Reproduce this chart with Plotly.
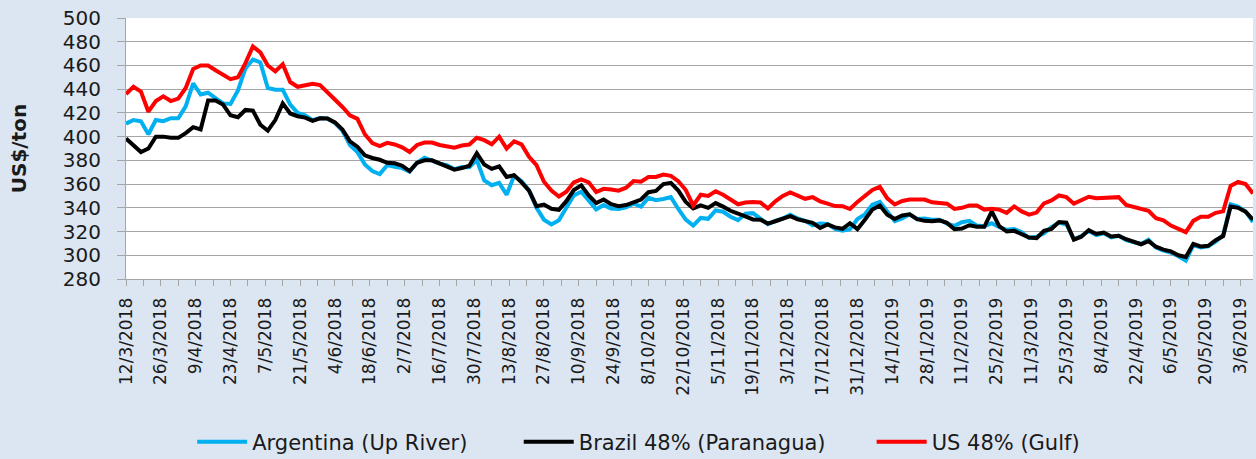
import pandas as pd
import plotly.graph_objects as go

argentina = [
    411, 414, 413, 402, 414, 413, 415.5, 415.5, 425.5, 445,
    435.5, 437, 432.5, 428, 427.5, 439, 457.5, 465, 462.5, 441,
    439.5, 439.5, 427, 420, 418, 413.8, 415.6, 415.4, 411.4, 405,
    393, 387, 376.6, 371, 368.5, 376, 374.5, 373.5, 370.5, 378,
    382.3, 379.8, 377.2, 376, 372.5, 374.5, 374.2, 380.5, 363, 359,
    361, 351, 367, 362.5, 354.7, 340, 330, 326, 329.5, 340,
    350.5, 353.5, 346, 338.7, 342.3, 339.5, 339, 340.4, 343.5, 341,
    348.5, 346.5, 347.5, 349, 339, 330, 325, 331.5, 330.7, 337.8,
    336.7, 332.5, 329.6, 335, 335.5, 330.5, 326.2, 328.9, 331, 334.2,
    331, 329, 325.3, 326.7, 326.3, 322.2, 320.8, 322, 330.6, 334.5,
    342.6, 345, 336.5, 328.8, 331, 334.5, 330.5, 331, 330, 330,
    326.7, 324.8, 327.8, 329, 325, 324.5, 327, 323.7, 321.5, 322.2,
    319.4, 314.7, 315.6, 318.5, 323.7, 327.5, 326, 313.5, 316.2, 320.5,
    317, 318.5, 315, 316.5, 312.7, 311.2, 309.5, 313, 306.5, 304,
    302.2, 299.2, 295.4, 308.5, 306.5, 307.5, 311.5, 317, 343, 341,
    337, 328,
]
brazil = [
    398.5, 393, 387, 390, 400, 400, 399, 399, 403, 408,
    406, 430.5, 430.5, 427, 418, 416.4, 422.5, 422, 410, 405,
    414, 428, 419.5, 417.2, 416, 413.3, 415.4, 415.2, 412, 406,
    396, 391.5, 384.3, 382, 380.5, 378, 377.5, 375.5, 371, 378,
    380, 380, 377.5, 375, 372.2, 373.5, 375.5, 386, 376.5, 372.8,
    375, 366, 367.5, 361.5, 354.5, 341.4, 342.8, 339.2, 338.3, 345.6,
    355, 358.9, 350.5, 344, 347, 343, 341.4, 342.3, 344.6, 347,
    353.2, 354.2, 360, 361, 354.5, 345, 339.5, 342, 340, 344,
    341, 337.5, 335.2, 333, 330.2, 330, 326.7, 328.7, 331.3, 333,
    330.2, 328.7, 327.3, 323, 326, 323.5, 322.3, 327, 322, 330,
    338.5, 342, 334.2, 330.5, 333.5, 334.5, 330.5, 329, 328.7, 329.4,
    327.3, 322, 322.5, 325.3, 324.1, 324, 337, 324.5, 320, 320.6,
    317.8, 315, 314.4, 320.6, 322.3, 328, 327.5, 313.2, 315.7, 321.2,
    318, 319.2, 315.8, 316.5, 313.5, 311.7, 309.3, 312, 307.2, 304.8,
    303.3, 300, 298.5, 309.5, 307.5, 308, 312.7, 316.2, 341, 340,
    336.8, 330,
]
us_gulf = [
    436, 442, 438, 421, 430, 434, 430, 432, 441, 457,
    460, 460, 456, 452, 448.5, 450, 462, 476, 471, 460,
    455, 461, 446, 442, 443, 444.5, 443.5, 437.5, 430.5, 425,
    418, 415, 402, 394.5, 392, 394.8, 393.4, 391, 387, 393,
    395, 395, 393, 391.5, 390.7, 392.5, 393.3, 399, 397, 393.5,
    400, 390, 396, 393.5, 383, 376, 362, 354.5, 349.5, 353.5,
    361.5, 364, 361.5, 353.3, 356, 355.5, 354.5, 357, 362.5, 362,
    366, 366, 368, 367, 362.5, 355, 342, 351, 350, 354,
    351, 347, 343, 344.5, 345, 344.5, 339.5, 345.5, 350, 353,
    350, 347.6, 349, 345.5, 343.5, 341.5, 341.4, 339, 345, 349.5,
    355, 357.7, 348, 342.8, 345.8, 347, 347, 347, 344.6, 344,
    343.5, 339, 340, 342, 342, 338.5, 339.2, 338.5, 335.8, 341.2,
    337, 334.2, 336, 343.8, 346.2, 350.4, 349, 343.5, 346.5, 349.3,
    348, 348.5, 348.5, 349, 342.5, 341, 339.5, 337.5, 331.2, 329.5,
    325, 322.3, 319.5, 329, 332.4, 332.4, 335.8, 337, 358.5, 361.8,
    360, 352,
]

dates = pd.date_range("2018-03-12", periods=len(us_gulf), freq="3D")

# name, values, colour, legend id, legend x (container fraction)
series = [
    ("Argentina (Up River)", argentina, "#00B0F0", "legend", 0.153),
    ("Brazil 48% (Paranagua)", brazil, "#000000", "legend2", 0.413),
    ("US 48% (Gulf)", us_gulf, "#FF0000", "legend3", 0.694),
]

fig = go.Figure()
for name, vals, color, leg, _ in series:
    fig.add_trace(go.Scatter(
        x=dates, y=vals, mode="lines", name=name, legend=leg,
        line=dict(color=color, width=4),
    ))

DAY = 86400000
grid = "#A6A6A6"

legends = {}
for _, _, _, leg, lx in series:
    legends[leg] = dict(
        orientation="h", xref="container", yref="container",
        x=lx, xanchor="left", y=0.037, yanchor="middle",
        font=dict(size=21), itemwidth=50, bgcolor="rgba(0,0,0,0)",
    )

fig.update_layout(
    width=1256, height=459,
    margin=dict(l=126, r=3, t=18, b=180),
    paper_bgcolor="#DCE6F2",
    plot_bgcolor="white",
    font=dict(family="DejaVu Sans", color="#1a1a1a"),
    showlegend=True,
    **legends,
)

fig.update_xaxes(
    type="date",
    range=["2018-03-12", "2019-06-08"],
    tick0="2018-03-12", dtick=14 * DAY,
    tickformat="%-d/%-m/%Y", tickangle=-90,
    tickfont=dict(size=17),
    ticks="outside", ticklen=6, tickcolor=grid,
    minor=dict(dtick=7 * DAY, tick0="2018-03-12", ticks="outside",
               ticklen=6, tickcolor=grid, showgrid=False),
    showline=True, linecolor=grid, linewidth=1,
    showgrid=False, ticklabelstandoff=5,
)

fig.update_yaxes(
    range=[280, 500], dtick=20,
    tickfont=dict(size=20),
    ticks="outside", ticklen=8, tickcolor=grid,
    showline=True, linecolor=grid, linewidth=1,
    gridcolor=grid, gridwidth=1,
    ticklabelstandoff=12,
    title=dict(text="<b>US$/ton</b>", font=dict(size=20), standoff=30),
)

fig.write_html(
    "out.html",
    config={"displayModeBar": False},
    post_script="document.body.style.margin='0';",
)
